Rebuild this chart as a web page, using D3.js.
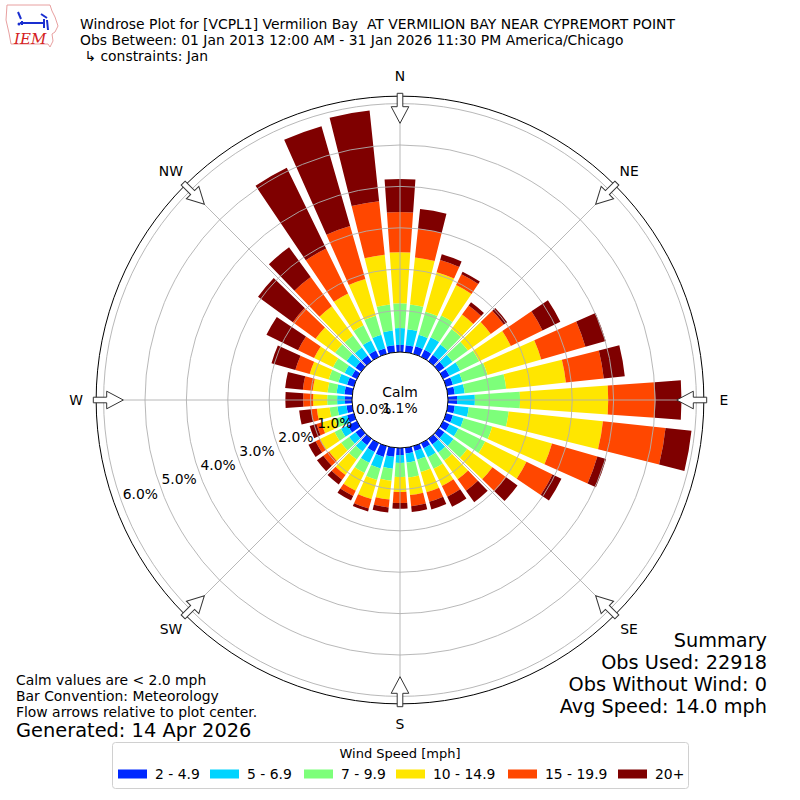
<!DOCTYPE html>
<html lang="en">
<head>
<meta charset="UTF-8">
<title>Windrose VCPL1</title>
<script src="https://cdn.jsdelivr.net/npm/d3@7"></script>
<style>
  body { margin: 0; background: #fff; }
  svg { display: block; font-family: "DejaVu Sans", sans-serif; }
</style>
</head>
<body>
<svg id="chart" width="800" height="800"></svg>
<script>
// direction bins, degrees the wind blows from
const directions = [0, 10, 20, 30, 40, 50, 60, 70, 80, 90, 100, 110, 120, 130, 140, 150, 160, 170,
  180, 190, 200, 210, 220, 230, 240, 250, 260, 270, 280, 290, 300, 310, 320, 330, 340, 350];

const speedBins = ["2 - 4.9", "5 - 6.9", "7 - 9.9", "10 - 14.9", "15 - 19.9", "20+"];
const binColors = ["#0028ff", "#00d4ff", "#7dff7a", "#ffe600", "#ff4700", "#7f0000"];

const freq2to5 = [0.17, 0.17, 0.19, 0.19, 0.19, 0.17, 0.17, 0.17, 0.17, 0.22, 0.17, 0.17, 0.17, 0.17, 0.17, 0.14, 0.12, 0.14,
  0.17, 0.22, 0.27, 0.24, 0.19, 0.17, 0.24, 0.17, 0.14, 0.17, 0.19, 0.17, 0.14, 0.17, 0.17, 0.17, 0.14, 0.17];
const freq5to7 = [0.41, 0.39, 0.29, 0.34, 0.31, 0.24, 0.29, 0.24, 0.24, 0.43, 0.34, 0.27, 0.24, 0.27, 0.24, 0.24, 0.22, 0.22,
  0.19, 0.29, 0.29, 0.29, 0.19, 0.19, 0.19, 0.14, 0.22, 0.19, 0.19, 0.22, 0.19, 0.27, 0.24, 0.27, 0.34, 0.36];
const freq7to10 = [0.60, 0.60, 0.58, 0.58, 0.46, 0.46, 0.51, 0.63, 1.01, 1.09, 0.97, 0.72, 0.72, 0.41, 0.24, 0.31, 0.31, 0.36,
  0.34, 0.29, 0.29, 0.27, 0.24, 0.24, 0.17, 0.17, 0.19, 0.24, 0.22, 0.24, 0.31, 0.34, 0.36, 0.41, 0.48, 0.63];
const freq10to15 = [1.23, 1.14, 0.99, 0.82, 0.43, 0.68, 0.85, 1.35, 1.45, 2.13, 2.29, 1.50, 1.11, 0.75, 0.56, 0.46, 0.51, 0.43,
  0.36, 0.46, 0.48, 0.48, 0.46, 0.36, 0.39, 0.34, 0.31, 0.34, 0.36, 0.48, 0.51, 0.58, 0.87, 0.85, 0.92, 1.21];
const freq15to20 = [0.97, 0.70, 0.31, 0.29, 0.27, 0.39, 0.85, 1.11, 0.92, 1.14, 1.52, 1.14, 0.70, 0.41, 0.34, 0.29, 0.24, 0.27,
  0.27, 0.19, 0.24, 0.14, 0.14, 0.17, 0.12, 0.12, 0.14, 0.24, 0.24, 0.36, 0.43, 0.68, 0.87, 1.21, 1.33, 1.30];
const freq20plus = [0.80, 0.48, 0.14, 0.07, 0.10, 0.10, 0.48, 0.51, 0.51, 0.63, 0.63, 0.22, 0.24, 0.34, 0.34, 0.27, 0.19, 0.14,
  0.14, 0.12, 0.07, 0.12, 0.14, 0.19, 0.19, 0.17, 0.29, 0.43, 0.43, 0.60, 0.85, 1.04, 0.89, 2.17, 2.51, 2.20];

const ringTicks = [0, 1, 2, 3, 4, 5, 6];
const compassLabels = ["N", "NE", "E", "SE", "S", "SW", "W", "NW"];
const compassAngles = [0, 45, 90, 135, 180, 225, 270, 315];

const calmPct = "1.1%";
const titleLines = [
  "Windrose Plot for [VCPL1] Vermilion Bay  AT VERMILION BAY NEAR CYPREMORT POINT",
  "Obs Between: 01 Jan 2013 12:00 AM - 31 Jan 2026 11:30 PM America/Chicago",
  " \u21b3 constraints: Jan"
];
const summaryLines = ["Summary", "Obs Used: 22918", "Obs Without Wind: 0", "Avg Speed: 14.0 mph"];
const noteLines = ["Calm values are < 2.0 mph", "Bar Convention: Meteorology", "Flow arrows relative to plot center."];

const svg = d3.select("#chart");
const cx = 400, cy = 400;
const fs = 13.9;      // base font size
const barWidth = 8;   // degrees, out of a 10 degree bin
const rad = deg => deg * Math.PI / 180;

const r = d3.scaleLinear().domain([0, 6]).range([48, 296.4]);
const frameR = r(6.18);

// build table for the stack
const seriesLists = [freq2to5, freq5to7, freq7to10, freq10to15, freq15to20, freq20plus];
const table = directions.map((dir, i) => {
  const row = { dir };
  speedBins.forEach((b, k) => row[b] = seriesLists[k][i]);
  return row;
});
const stacked = d3.stack().keys(speedBins)(table);

const polar = svg.append("g").attr("transform", `translate(${cx},${cy})`);

// bars
const arc = d3.arc()
  .innerRadius(d => r(d[0]))
  .outerRadius(d => r(d[1]))
  .startAngle(d => rad(d.data.dir - barWidth / 2))
  .endAngle(d => rad(d.data.dir + barWidth / 2));

polar.selectAll("g.bin")
  .data(stacked)
  .join("g")
  .attr("class", "bin")
  .attr("fill", (d, i) => binColors[i])
  .selectAll("path")
  .data(d => d)
  .join("path")
  .attr("d", arc);

// grid on top of the bars
polar.selectAll("circle.ring")
  .data(ringTicks.slice(1))
  .join("circle")
  .attr("class", "ring")
  .attr("r", d => r(d))
  .attr("fill", "none")
  .attr("stroke", "#b0b0b0")
  .attr("stroke-width", 0.9);

polar.selectAll("line.spoke")
  .data(compassAngles)
  .join("line")
  .attr("x1", d => r(0) * Math.sin(rad(d)))
  .attr("y1", d => -r(0) * Math.cos(rad(d)))
  .attr("x2", d => frameR * Math.sin(rad(d)))
  .attr("y2", d => -frameR * Math.cos(rad(d)))
  .attr("stroke", "#b0b0b0")
  .attr("stroke-width", 0.9);

polar.append("circle")
  .attr("r", frameR)
  .attr("fill", "none")
  .attr("stroke", "#000")
  .attr("stroke-width", 1);

// calm circle
polar.append("circle")
  .attr("r", r(0))
  .attr("fill", "#fff")
  .attr("stroke", "#000")
  .attr("stroke-width", 1);

polar.append("text")
  .attr("y", -8)
  .attr("text-anchor", "middle")
  .attr("dominant-baseline", "central")
  .attr("font-size", fs)
  .text("Calm");
polar.append("text")
  .attr("y", 8)
  .attr("text-anchor", "middle")
  .attr("dominant-baseline", "central")
  .attr("font-size", fs)
  .text(calmPct);

// ring labels along the 250 degree line
const labelDir = rad(250);
polar.selectAll("text.rlabel")
  .data(ringTicks)
  .join("text")
  .attr("class", "rlabel")
  .attr("x", d => (r(d) - 20) * Math.sin(labelDir))
  .attr("y", d => -(r(d) - 20) * Math.cos(labelDir) - 1)
  .attr("text-anchor", "middle")
  .attr("dominant-baseline", "central")
  .attr("font-size", fs)
  .text(d => d.toFixed(1) + "%");

// flow arrows
const arrowPts = [[-2.8, -306.7], [2.8, -306.7], [2.8, -293.3], [8.8, -293.3], [0, -276.7], [-8.8, -293.3], [-2.8, -293.3]];
polar.selectAll("polygon.arrow")
  .data(compassAngles)
  .join("polygon")
  .attr("points", arrowPts.map(p => p.join(",")).join(" "))
  .attr("transform", d => `rotate(${d})`)
  .attr("fill", "#fff")
  .attr("stroke", "#333")
  .attr("stroke-width", 1);

polar.selectAll("text.compass")
  .data(compassAngles)
  .join("text")
  .attr("x", d => 324 * Math.sin(rad(d)))
  .attr("y", d => -324 * Math.cos(rad(d)))
  .attr("text-anchor", "middle")
  .attr("dominant-baseline", "central")
  .attr("font-size", fs)
  .text((d, i) => compassLabels[i]);

// title
svg.selectAll("text.title")
  .data(titleLines)
  .join("text")
  .attr("x", 80)
  .attr("y", (d, i) => 24 + i * 16)
  .attr("dominant-baseline", "central")
  .attr("font-size", fs)
  .attr("xml:space", "preserve")
  .style("white-space", "pre")
  .text(d => d);

// summary block
svg.selectAll("text.summary")
  .data(summaryLines)
  .join("text")
  .attr("x", 767)
  .attr("y", (d, i) => 640 + i * 22)
  .attr("text-anchor", "end")
  .attr("dominant-baseline", "central")
  .attr("font-size", 19.3)
  .text(d => d);

// notes
svg.selectAll("text.note")
  .data(noteLines)
  .join("text")
  .attr("x", 16)
  .attr("y", (d, i) => 680 + i * 16)
  .attr("dominant-baseline", "central")
  .attr("font-size", fs)
  .text(d => d);
svg.append("text")
  .attr("x", 16)
  .attr("y", 730)
  .attr("dominant-baseline", "central")
  .attr("font-size", 19.4)
  .text("Generated: 14 Apr 2026");

// legend
const legend = svg.append("g");
legend.append("rect")
  .attr("x", 112.5).attr("y", 742.5)
  .attr("width", 576).attr("height", 46)
  .attr("rx", 3)
  .attr("fill", "#fff")
  .attr("stroke", "#d0d0d0");
legend.append("text")
  .attr("x", 400).attr("y", 753)
  .attr("text-anchor", "middle")
  .attr("dominant-baseline", "central")
  .attr("font-size", 13)
  .text("Wind Speed [mph]");
const legendX = [118, 210, 304, 396, 508, 618];
const items = legend.selectAll("g.item")
  .data(speedBins)
  .join("g")
  .attr("transform", (d, i) => `translate(${legendX[i]},774)`);
items.append("rect")
  .attr("y", -4.5).attr("width", 29).attr("height", 9)
  .attr("fill", (d, i) => binColors[i]);
items.append("text")
  .attr("x", 37)
  .attr("dominant-baseline", "central")
  .attr("font-size", fs)
  .text(d => d);

// IEM logo, rough sketch
const logo = svg.append("g");
logo.append("path")
  .attr("d", "M7,5 L50,5 L52,11 L55,17 L58,26 L55,32 L52,34 L53,41 L50,47 L48,44 L11,44 L9,33 L6,20 Z")
  .attr("fill", "none")
  .attr("stroke", "#e8a0a0")
  .attr("stroke-width", 1);
logo.append("path")
  .attr("d", "M20,23 L44,23 M22,21 L22,25 M44,19 L44,28 M18,12 L21,19 M41,14 L47,18 M47,20 L48,30")
  .attr("stroke", "#1a2fd0")
  .attr("stroke-width", 2)
  .attr("fill", "none");
logo.append("circle").attr("cx", 19).attr("cy", 24).attr("r", 1.5).attr("fill", "#1a2fd0");
logo.append("text")
  .attr("x", 14).attr("y", 44)
  .attr("font-family", "DejaVu Serif, serif")
  .attr("font-style", "italic")
  .attr("font-size", 15)
  .attr("fill", "#d42020")
  .text("IEM");
</script>
</body>
</html>
